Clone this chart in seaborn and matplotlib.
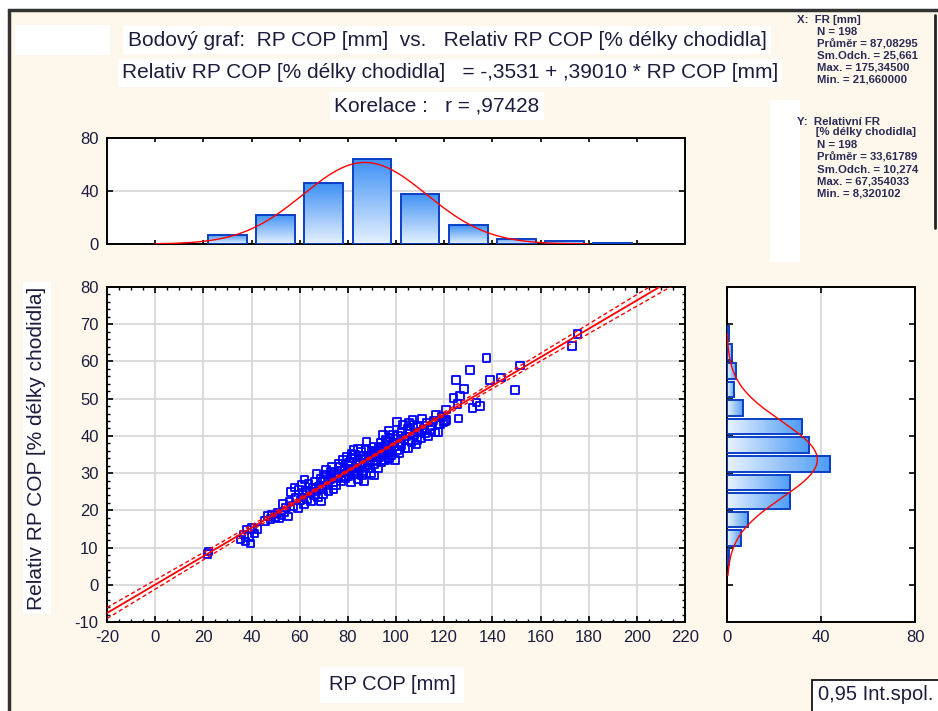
import numpy as np
import matplotlib
matplotlib.use("Agg")
import matplotlib.pyplot as plt
from matplotlib.patches import Rectangle
from matplotlib.colors import LinearSegmentedColormap
from matplotlib.ticker import MultipleLocator
import seaborn as sns

# body grafu: RP COP [mm] vs. Relativ RP COP [% delky chodidla]
rp_cop = [
    21.66, 22.1, 35.5, 36.8, 37.5, 38.2, 39.0, 39.6,
    41.2, 40.1, 42.5, 45.5, 46.8, 47.9, 48.6, 49.7, 50.8, 51.5, 52.4, 53.6, 54.2, 55.1,
    55.8, 56.5, 57.2, 57.9, 58.6, 59.3, 59.8, 53.0,
    60.4, 60.9, 61.5, 61.9, 62.6, 63.1, 63.7, 64.2, 64.8, 65.3, 65.9, 66.4, 66.8, 67.5,
    68.1, 68.6, 69.2, 69.8, 70.3, 70.8, 71.4, 71.9, 72.5, 73.0, 73.3, 73.8, 74.2, 74.7,
    75.1, 75.6, 76.1, 76.4, 76.8, 77.2, 77.6, 78.1, 78.4, 78.8, 79.1, 79.5, 79.8, 62.0,
    67.0, 71.0, 68.9, 74.0,
    80.2, 80.6, 80.9, 81.3, 81.7, 82.0, 82.3, 82.7, 83.0, 83.4, 83.7, 84.1, 84.5, 84.8,
    85.0, 85.4, 85.8, 86.1, 86.4, 86.8, 87.1, 87.5, 87.8, 88.2, 88.5, 88.9, 89.2, 89.6,
    89.9, 90.3, 90.6, 91.0, 91.3, 91.7, 92.0, 92.4, 92.8, 93.1, 93.5, 93.8, 94.0, 94.4,
    94.8, 95.1, 95.4, 95.8, 96.1, 96.5, 96.8, 97.2, 97.5, 97.8, 98.2, 98.5, 98.8, 99.2,
    99.6, 99.8, 81.5, 84.3, 86.6, 90.8, 94.6, 97.0,
    100.3, 100.5, 100.9, 101.4, 101.7, 102.3, 102.6, 103.0, 103.5, 103.9, 104.4, 104.8,
    105.1, 105.4, 105.9, 106.4, 106.9, 107.2, 107.7, 108.2, 108.6, 109.2, 109.7, 110.3,
    110.7, 111.4, 112.1, 112.8, 113.4, 114.0, 114.8, 115.5, 116.2, 116.6, 117.6, 118.2,
    118.9, 119.7,
    120.8, 121.0, 120.4, 123.8, 124.9, 125.9, 126.6, 125.6, 130.7, 131.7, 133.5, 134.9,
    137.6, 139.0, 128.3,
    143.5, 149.3, 151.5, 173.0, 175.345,
]
rel_rp_cop = [
    8.32, 8.9, 12.2, 13.5, 11.6, 14.8, 12.9, 11.1,
    13.8, 15.3, 15.0, 17.2, 18.5, 17.6, 18.9, 18.1, 19.3, 17.9, 18.7, 19.6, 20.8, 18.3,
    22.4, 24.9, 21.2, 26.1, 23.3, 20.6, 25.4, 21.7,
    22.8, 26.8, 24.1, 21.6, 25.3, 23.0, 27.2, 24.6, 22.5, 26.0, 24.0, 27.7, 25.1, 23.6,
    26.4, 28.6, 25.8, 24.3, 27.9, 29.6, 26.7, 25.2, 28.4, 30.4, 31.7, 27.6, 29.1, 30.0,
    26.8, 28.7, 32.6, 29.9, 31.7, 27.9, 30.6, 33.5, 29.3, 31.2, 28.5, 34.4, 30.2, 28.3,
    29.8, 31.0, 22.4, 25.6,
    29.1, 32.8, 30.4, 27.6, 33.9, 31.2, 36.2, 29.8, 34.9, 32.1, 30.0, 28.4, 33.4, 31.0,
    32.6, 35.6, 29.5, 33.9, 30.4, 34.7, 31.7, 36.4, 38.4, 32.8, 31.3, 34.2, 33.5, 30.1,
    36.0, 34.6, 37.1, 32.3, 35.8, 33.1, 35.3, 31.4, 36.9, 34.4, 38.1, 32.9, 37.1, 35.0,
    33.6, 36.6, 33.5, 38.9, 38.4, 35.5, 37.4, 34.1, 39.6, 36.3, 34.9, 38.0, 40.2, 37.2,
    33.5, 39.1, 35.1, 36.6, 27.9, 29.4, 40.3, 41.5,
    36.2, 43.8, 40.1, 35.3, 38.0, 37.6, 41.2, 42.9, 39.0, 36.8, 39.8, 41.9,
    36.7, 43.4, 40.6, 38.3, 44.3, 42.9, 40.1, 37.7, 38.9, 42.5, 41.0, 39.4,
    44.7, 42.0, 40.7, 43.6, 39.8, 41.6, 42.5, 44.1, 40.9, 45.6, 41.0, 43.2,
    45.0, 43.8,
    47.1, 44.3, 44.0, 50.1, 55.0, 44.7, 50.7, 48.6, 57.7, 47.5, 49.0, 48.0,
    61.0, 55.0, 52.6,
    55.7, 52.4, 58.9, 64.2, 67.354,
]

# histogramy (pocty pozorovani)
hist_x_centers = [30, 50, 70, 90, 110, 130, 150, 170, 190]
hist_x_counts = [7, 22, 46, 64, 38, 14, 4, 2, 1]
hist_y_centers = [7.5, 12.5, 17.5, 22.5, 27.5, 32.5, 37.5, 42.5, 47.5, 52.5, 57.5, 62.5, 67.5]
hist_y_counts = [1, 6, 9, 27, 27, 44, 35, 32, 7, 3, 4, 2, 1]

n_obs = 198
x_mean, x_sd = 87.08295, 25.661
y_mean, y_sd = 33.61789, 10.274

W, H = 938, 711
CREAM = "#fef8ec"
BLUE_EDGE = "#0a3fc8"
TXT = "#1c1c3c"

sns.set_style("ticks")
plt.rcParams["font.family"] = ["Liberation Sans", "DejaVu Sans"]
plt.rcParams["axes.unicode_minus"] = False
NARROW = ["Liberation Sans Narrow", "Liberation Sans", "DejaVu Sans"]


def fx(px):
    return px / W


def fy(py):
    return 1 - py / H


def gradient_bars(ax, bars, cmap, horizontal=False):
    grad = np.linspace(0, 1, 64)
    img = grad.reshape(1, -1) if horizontal else grad.reshape(-1, 1)
    for b in bars:
        x, y = b.get_x(), b.get_y()
        w, h = b.get_width(), b.get_height()
        im = ax.imshow(img, extent=[x, x + w, y, y + h], origin="lower",
                       cmap=cmap, aspect="auto", zorder=2)
        im.set_clip_path(b)
        b.set_facecolor("none")
        b.set_zorder(3)


def fig_rect(x0, y0, x1, y1, **kw):
    # obdelnik v pixelech (odshora)
    r = Rectangle((fx(x0), fy(y1)), (x1 - x0) / W, (y1 - y0) / H,
                  transform=fig.transFigure, **kw)
    fig.patches.append(r)
    return r


fig = plt.figure(figsize=(W / 100, H / 100), dpi=100, facecolor="white")
fig_rect(9, 10, 960, 720, facecolor=CREAM, edgecolor="#333333", linewidth=2.5, zorder=-10)
fig_rect(15, 25, 110, 55, facecolor="white", edgecolor="none", zorder=-9)
fig_rect(770, 100, 800, 262, facecolor="white", edgecolor="none", zorder=-9)

ax = fig.add_axes([fx(107), fy(622), fx(578), 335 / H])
ax_top = fig.add_axes([fx(107), fy(244), fx(578), 106 / H])
ax_right = fig.add_axes([fx(727), fy(622), fx(188), 335 / H])

# --- bodovy graf ---
sns.scatterplot(x=rp_cop, y=rel_rp_cop, ax=ax, marker="s", s=30,
                facecolor="none", edgecolor="#0000ff", linewidth=1.3, zorder=3)

xs = np.asarray(rp_cop)
ys = np.asarray(rel_rp_cop)
slope, icpt = np.polyfit(xs, ys, 1)
resid = ys - (icpt + slope * xs)
s_res = np.sqrt((resid ** 2).sum() / (len(xs) - 2))
sxx = ((xs - xs.mean()) ** 2).sum()
xl = np.linspace(-20, 220, 300)
yl = icpt + slope * xl
se = s_res * np.sqrt(1 / len(xs) + (xl - xs.mean()) ** 2 / sxx)
ax.plot(xl, yl, color="red", lw=1.3, zorder=4)
ax.plot(xl, yl + 1.97 * se, color="red", lw=1.0, ls=(0, (3, 2)), zorder=4)
ax.plot(xl, yl - 1.97 * se, color="red", lw=1.0, ls=(0, (3, 2)), zorder=4)

ax.set_xlim(-20, 220)
ax.set_ylim(-10, 80)
ax.xaxis.set_major_locator(MultipleLocator(20))
ax.xaxis.set_minor_locator(MultipleLocator(5))
ax.yaxis.set_major_locator(MultipleLocator(10))
ax.yaxis.set_minor_locator(MultipleLocator(2))
ax.grid(True, which="major", color="#d6d6d6", lw=1.2, zorder=0)
ax.set_axisbelow(True)

# --- horni histogram ---
bars = ax_top.bar(hist_x_centers, hist_x_counts, width=16, edgecolor=BLUE_EDGE, linewidth=1.4)
cmap_v = LinearSegmentedColormap.from_list("v", ["#e6f1ff", "#3f91f5"])
gradient_bars(ax_top, bars, cmap_v)
gx = np.linspace(0, 180, 200)
gy = n_obs * 20 * np.exp(-0.5 * ((gx - x_mean) / x_sd) ** 2) / (x_sd * np.sqrt(2 * np.pi))
sns.lineplot(x=gx, y=gy, ax=ax_top, color="red", lw=1.0, zorder=5, sort=False)
ax_top.set_xlim(-20, 220)
ax_top.set_ylim(0, 80)
ax_top.set_xticks(np.arange(0, 201, 20))
ax_top.set_xticklabels([])
ax_top.set_yticks([0, 40, 80])
ax_top.grid(True, axis="y", color="#d6d6d6", lw=1.2, zorder=0)
ax_top.set_axisbelow(True)

# --- pravy histogram ---
hbars = ax_right.barh(hist_y_centers, hist_y_counts, height=4.2, edgecolor=BLUE_EDGE, linewidth=1.4)
cmap_h = LinearSegmentedColormap.from_list("h", ["#e8f2ff", "#4d9cf6"])
gradient_bars(ax_right, hbars, cmap_h, horizontal=True)
ry = np.linspace(2.5, 67.5, 200)
rx = n_obs * 5 * np.exp(-0.5 * ((ry - y_mean) / y_sd) ** 2) / (y_sd * np.sqrt(2 * np.pi))
sns.lineplot(x=rx, y=ry, ax=ax_right, color="red", lw=1.0, zorder=5, sort=False)
ax_right.set_xlim(0, 80)
ax_right.set_ylim(-10, 80)
ax_right.set_xticks([0, 40, 80])
ax_right.set_yticks(np.arange(0, 71, 10))
ax_right.set_yticklabels([])
ax_right.grid(True, axis="x", color="#d6d6d6", lw=1.2, zorder=0)
ax_right.set_axisbelow(True)

for a in (ax, ax_top, ax_right):
    a.set_facecolor("white")
    for sp in a.spines.values():
        sp.set_visible(True)
        sp.set_color("black")
        sp.set_linewidth(1.4)
    a.tick_params(which="both", direction="in", top=True, right=True,
                  colors="black", labelcolor=TXT, labelsize=12, pad=6)
    a.tick_params(which="major", length=4, width=1.2)
    a.tick_params(which="minor", length=2, width=1.0)
    for lab in a.get_xticklabels() + a.get_yticklabels():
        lab.set_family(NARROW)
ax_top.tick_params(axis="x", which="both", length=3)

# --- texty ---
box = dict(facecolor="white", edgecolor="none", pad=3)
fig.text(fx(447), fy(40), "Bodový graf:  RP COP [mm]  vs.   Relativ RP COP [% délky chodidla]",
         ha="center", va="center", fontsize=15, color=TXT, bbox=box)
fig.text(fx(450), fy(73), "Relativ RP COP [% délky chodidla]   = -,3531 + ,39010 * RP COP [mm]",
         ha="center", va="center", fontsize=15, color=TXT, bbox=box)
fig.text(fx(437), fy(106), "Korelace :   r = ,97428",
         ha="center", va="center", fontsize=15, color=TXT, bbox=box)
fig.text(fx(37), fy(448), "Relativ RP COP [% délky chodidla]", rotation=90,
         ha="center", va="center", fontsize=15, color=TXT, bbox=box)
fig.text(fx(392), fy(685), "RP COP [mm]", ha="center", va="center",
         fontsize=14.5, color=TXT, family=NARROW, bbox=dict(facecolor="white", edgecolor="none", pad=6))

fig_rect(812, 680, 960, 720, facecolor="white", edgecolor="black", linewidth=1.2, zorder=2)
fig.text(fx(818), fy(695), "0,95 Int.spol.", ha="left", va="center", fontsize=14.5,
         color=TXT, family=NARROW, zorder=5)

# --- statistiky ---
st = fig.add_axes([fx(795), fy(262), fx(140), 252 / H])
st.set_axis_off()
st.set_xlim(0, 140)
st.set_ylim(262, 10)
fig.lines.append(plt.Line2D([fx(935), fx(935)], [fy(15), fy(228)], transform=fig.transFigure,
                            color="#222222", lw=2))
stats_x = ["N = 198", "Průměr = 87,08295", "Sm.Odch. = 25,661", "Max. = 175,34500", "Min. = 21,660000"]
stats_y = ["N = 198", "Průměr = 33,61789", "Sm.Odch. = 10,274", "Max. = 67,354033", "Min. = 8,320102"]
kw = dict(fontsize=8.2, color="#2a2a55", va="center", clip_on=True, fontweight="bold",
          family=NARROW)
st.text(2, 20, "X:  FR [mm]", **kw)
for i, t in enumerate(stats_x):
    st.text(22, 32 + i * 11.8, t, **kw)
st.text(2, 127, "Y:  Relativní FR\n      [% délky chodidla]", linespacing=1.0, **kw)
for i, t in enumerate(stats_y):
    st.text(22, 145 + i * 12, t, **kw)

fig.savefig("out.png", dpi=100, facecolor=fig.get_facecolor())
